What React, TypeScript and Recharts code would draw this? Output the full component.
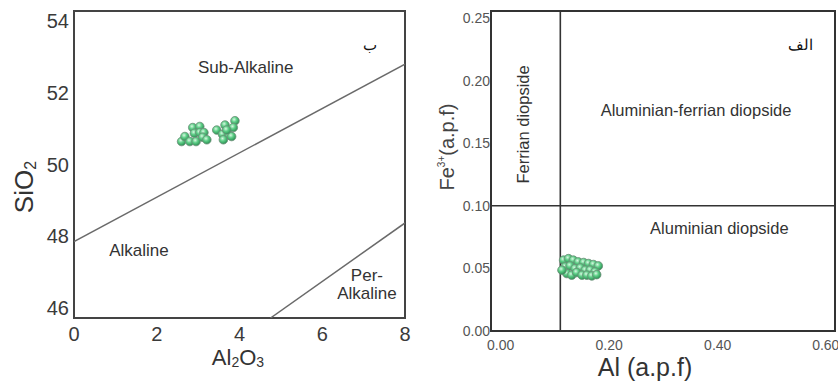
import React from "react";
import { ScatterChart, Scatter, XAxis, YAxis, ReferenceLine, ReferenceArea, ReferenceDot } from "recharts";

// Left panel (ب): SiO2 vs Al2O3
const leftAl2O3 = [2.60, 2.68, 2.87, 3.04, 2.91, 3.04, 3.14, 2.80, 2.95, 3.11, 3.21, 3.45, 3.65, 3.89, 3.85, 3.59, 3.75, 3.61, 3.81, 3.69];
const leftSiO2 = [50.64, 50.78, 51.03, 51.06, 50.87, 50.89, 50.89, 50.64, 50.64, 50.76, 50.69, 50.96, 51.10, 51.22, 51.03, 50.84, 50.82, 50.69, 50.78, 50.96];
const leftXTicks = [0, 2, 4, 6, 8];
const leftYTicks = [46, 48, 50, 52, 54];

// Right panel (الف): Fe3+ vs Al
const rightAl = [0.116, 0.125, 0.134, 0.143, 0.153, 0.162, 0.171, 0.180, 0.119, 0.128, 0.137, 0.147, 0.156, 0.165, 0.174, 0.122, 0.131, 0.140, 0.150, 0.159, 0.168, 0.177, 0.113];
const rightFe = [0.0566, 0.0578, 0.0566, 0.0552, 0.0547, 0.0539, 0.0531, 0.052, 0.0512, 0.052, 0.0498, 0.0504, 0.0486, 0.0486, 0.0472, 0.0459, 0.0446, 0.0467, 0.0446, 0.0446, 0.044, 0.045, 0.0486];
const rightXTicks = [0, 0.2, 0.4, 0.6];
const rightYTicks = [0, 0.05, 0.1, 0.15, 0.2, 0.25];

const leftData = leftAl2O3.map((x, i) => ({ x, y: leftSiO2[i] }));
const rightData = rightAl.map((x, i) => ({ x, y: rightFe[i] }));

const FONT = "'Liberation Sans', Arial, sans-serif";

const Ball = (props: any) => {
  const { cx, cy } = props;
  if (cx == null || cy == null) return null;
  return <circle cx={cx} cy={cy} r={4.3} fill="url(#ballGrad)" stroke="#6f8f7a" strokeWidth={0.8} />;
};

const LX = [0, 8];
const LY = [45.72, 54.28];
const RX = [-0.0177, 0.616];
const RY = [0, 0.2556];

const regionLabel = (value: string, size: number, extra: any = {}) => ({
  value,
  position: "center" as const,
  fill: "#333",
  fontSize: size,
  fontFamily: FONT,
  ...extra,
});

export default function App() {
  return (
    <div style={{ position: "absolute", left: 0, top: 0, width: 838, height: 386, background: "#fff", overflow: "hidden" }}>
      <svg width={0} height={0} style={{ position: "absolute" }}>
        <defs>
          <radialGradient id="ballGrad" cx="40%" cy="35%" r="65%">
            <stop offset="0%" stopColor="#d8f8e2" />
            <stop offset="45%" stopColor="#5fcf88" />
            <stop offset="100%" stopColor="#2a8f52" />
          </radialGradient>
        </defs>
      </svg>

      <div style={{ position: "absolute", left: 0, top: 0 }}>
        <ScatterChart width={420} height={386} margin={{ top: 11, right: 15, bottom: 8, left: 0 }}>
          <XAxis
            type="number"
            dataKey="x"
            domain={LX}
            ticks={leftXTicks}
            allowDataOverflow
            axisLine={false}
            tickLine={false}
            tickSize={0}
            tickMargin={9}
            height={60}
            tick={{ fill: "#3a3a3a", fontSize: 20, fontFamily: FONT }}
          />
          <YAxis
            type="number"
            dataKey="y"
            domain={LY}
            ticks={leftYTicks}
            allowDataOverflow
            axisLine={false}
            tickLine={false}
            tickSize={0}
            tickMargin={5}
            width={74}
            tick={{ fill: "#3a3a3a", fontSize: 20, fontFamily: FONT }}
          />
          <ReferenceLine segment={[{ x: 0, y: 47.85 }, { x: 8, y: 52.8 }]} stroke="#6a6a6a" strokeWidth={1.5} ifOverflow="hidden" />
          <ReferenceLine segment={[{ x: 4.75, y: 45.72 }, { x: 8, y: 48.37 }]} stroke="#6a6a6a" strokeWidth={1.5} ifOverflow="hidden" />
          <ReferenceArea x1={LX[0]} x2={LX[1]} y1={LY[0]} y2={LY[1]} fill="none" stroke="#444" strokeWidth={2} />
          <ReferenceDot x={4.15} y={52.72} r={0} label={regionLabel("Sub-Alkaline", 17)} />
          <ReferenceDot x={1.57} y={47.62} r={0} label={regionLabel("Alkaline", 17)} />
          <ReferenceDot x={7.08} y={46.92} r={0} label={regionLabel("Per-", 17)} />
          <ReferenceDot x={7.08} y={46.42} r={0} label={regionLabel("Alkaline", 17)} />
          <ReferenceDot x={7.15} y={53.33} r={0} label={regionLabel("ب", 15, { fill: "#111" })} />
          <Scatter data={leftData} shape={<Ball />} isAnimationActive={false} />
        </ScatterChart>
      </div>

      <div style={{ position: "absolute", left: 420, top: 0 }}>
        <ScatterChart width={418} height={386} margin={{ top: 11, right: 3, bottom: 0, left: 0 }}>
          <XAxis
            type="number"
            dataKey="x"
            domain={RX}
            ticks={rightXTicks}
            allowDataOverflow
            axisLine={false}
            tickLine={false}
            tickSize={0}
            tickMargin={9}
            height={55}
            tickFormatter={(v: number) => v.toFixed(2)}
            tick={{ fill: "#555", fontSize: 14, fontFamily: FONT }}
          />
          <YAxis
            type="number"
            dataKey="y"
            domain={RY}
            ticks={rightYTicks}
            allowDataOverflow
            axisLine={false}
            tickLine={false}
            tickSize={0}
            tickMargin={1}
            width={71}
            tickFormatter={(v: number) => v.toFixed(2)}
            tick={{ fill: "#555", fontSize: 14, fontFamily: FONT }}
          />
          <ReferenceLine y={0.1} stroke="#333" strokeWidth={1.6} />
          <ReferenceLine x={0.11} stroke="#333" strokeWidth={1.6} />
          <ReferenceArea x1={RX[0]} x2={RX[1]} y1={RY[0]} y2={RY[1]} fill="none" stroke="#333" strokeWidth={2} />
          <ReferenceDot x={0.042} y={0.165} r={0} label={regionLabel("Ferrian diopside", 16.5, { angle: -90 })} />
          <ReferenceDot x={0.36} y={0.1765} r={0} label={regionLabel("Aluminian-ferrian diopside", 16.5)} />
          <ReferenceDot x={0.403} y={0.0823} r={0} label={regionLabel("Aluminian diopside", 16.5)} />
          <ReferenceDot x={0.552} y={0.229} r={0} label={regionLabel("الف", 15, { fill: "#111" })} />
          <Scatter data={rightData} shape={<Ball />} isAnimationActive={false} />
        </ScatterChart>
      </div>

      <svg width={838} height={386} style={{ position: "absolute", left: 0, top: 0, pointerEvents: "none" }}>
        <text x={238} y={365} textAnchor="middle" fill="#333" fontSize={22} fontFamily={FONT}>
          Al<tspan fontSize={14} dy={2}>2</tspan><tspan dy={-2}>O</tspan><tspan fontSize={14} dy={2}>3</tspan>
        </text>
        <text transform="translate(33,187) rotate(-90)" textAnchor="middle" fill="#333" fontSize={26} fontFamily={FONT}>
          SiO<tspan fontSize={16} dy={3}>2</tspan>
        </text>
        <text x={645} y={376} textAnchor="middle" fill="#333" fontSize={25} fontFamily={FONT}>
          Al (a.p.f)
        </text>
        <text transform="translate(454,147) rotate(-90)" textAnchor="middle" fill="#444" fontSize={20} fontFamily={FONT}>
          Fe<tspan fontSize={10} dy={-9}>3+</tspan><tspan dy={9}>(a.p.f)</tspan>
        </text>
      </svg>
    </div>
  );
}
